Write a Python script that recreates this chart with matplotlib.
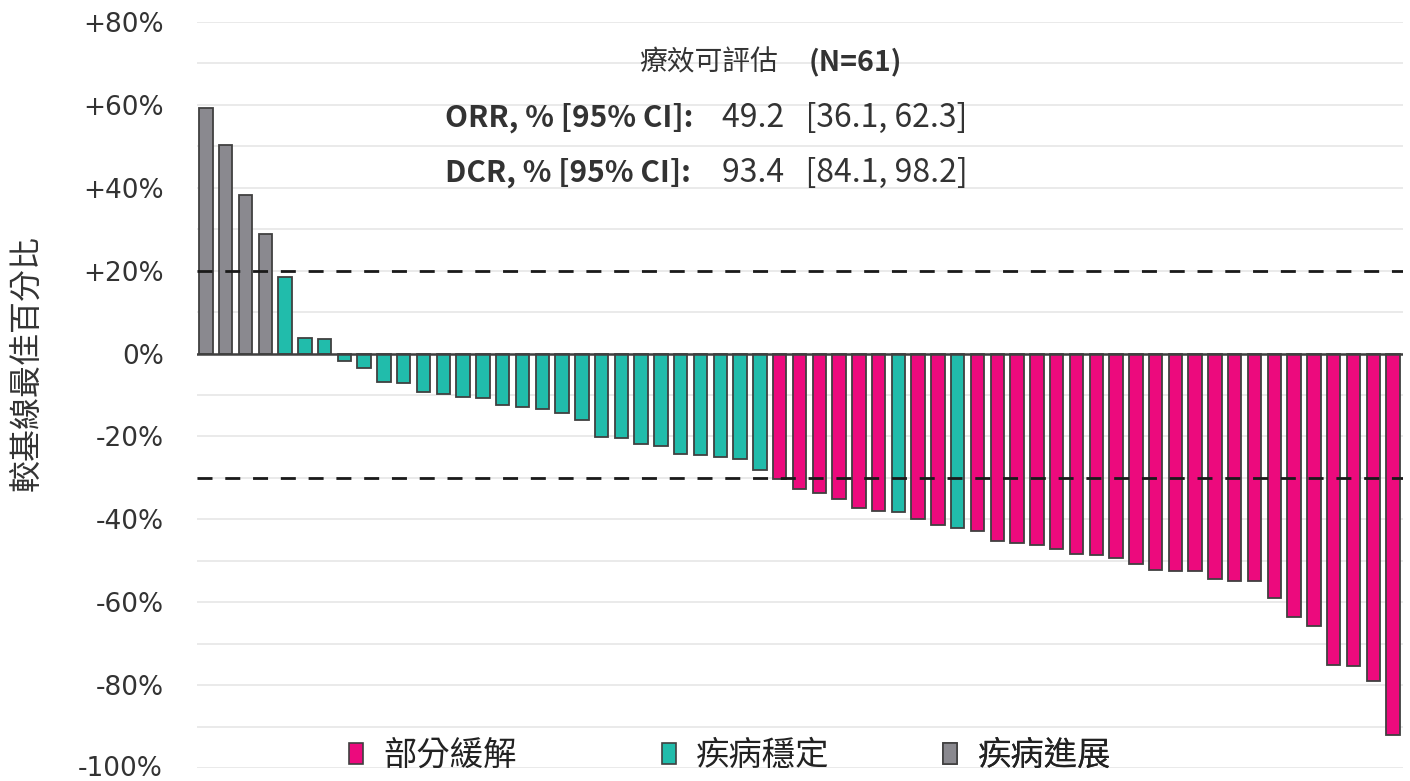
import numpy as np
import matplotlib.pyplot as plt
import matplotlib as mpl
from matplotlib.patches import Patch, Rectangle
from matplotlib.transforms import offset_copy

mpl.rcParams['font.family'] = ['Noto Sans CJK TC', 'DejaVu Sans']

# best % change from baseline, sorted as in the waterfall
change = [59.3, 50.4, 38.3, 28.8, 18.4, 3.7, 3.4, -1.7, -3.5, -6.9,
          -7.1, -9.2, -9.7, -10.5, -10.8, -12.4, -12.9, -13.3, -14.3, -16.1,
          -20.2, -20.4, -21.8, -22.4, -24.3, -24.5, -24.9, -25.4, -28.2, -30.3,
          -32.6, -33.7, -35.2, -37.2, -38.1, -38.2, -39.8, -41.4, -42.2, -42.7,
          -45.2, -45.6, -46.2, -47.1, -48.3, -48.7, -49.4, -50.8, -52.1, -52.4,
          -52.4, -54.5, -54.9, -54.9, -59.0, -63.5, -65.7, -75.2, -75.4, -79.0,
          -92.0]
# PR = partial response, SD = stable disease, PD = progressive disease
response = ['PD'] * 4 + ['SD'] * 25 + ['PR'] * 6 + ['SD'] + ['PR'] * 2 + ['SD'] + ['PR'] * 22

resp_names = {'PR': '部分緩解', 'SD': '疾病穩定', 'PD': '疾病進展'}
resp_colors = {'PR': '#EC0A7D', 'SD': '#21BCAB', 'PD': '#8A898F'}

ytick_values = [-100, -80, -60, -40, -20, 0, 20, 40, 60, 80]
ytick_labels = ['-100%', '-80%', '-60%', '-40%', '-20%', '0%', '+20%', '+40%', '+60%', '+80%']
pd_cut = 20
pr_cut = -30

fig = plt.figure(figsize=(14.1, 7.81), dpi=100)
ax = fig.add_axes([0.1397, 0.0166, 0.8553, 0.9552])

x = np.arange(len(change))
ax.bar(x, change, 0.68, color=[resp_colors[r] for r in response],
       edgecolor='#404040', linewidth=1.3, zorder=3)

ax.set_xlim(-0.45, len(change) - 0.5)
ax.set_ylim(-100, 80)
ax.set_yticks(ytick_values)
# bottom label sits on the figure edge, drawn separately a bit higher
ax.set_yticklabels([''] + ytick_labels[1:], family='DejaVu Sans', fontsize=19, color='#333333')
ax.text(0, ytick_values[0], ytick_labels[0], family='DejaVu Sans', fontsize=19, color='#333333',
        ha='right', va='baseline',
        transform=offset_copy(ax.get_yaxis_transform(), fig=fig, x=-34, y=-8, units='dots'))
ax.set_yticks(np.arange(-90, 80, 20), minor=True)
ax.set_xticks([])
ax.tick_params(axis='y', which='both', length=0, pad=24)
ax.grid(axis='y', which='both', color='#E8E8E8', linewidth=1.3, zorder=0)
for s in ax.spines.values():
    s.set_visible(False)

ax.axhline(0, color='#404040', linewidth=1.8, zorder=4)
ax.axhline(pd_cut, color='#1A1A1A', linewidth=2, linestyle=(0, (5.4, 4.6)), zorder=5)
ax.axhline(pr_cut, color='#1A1A1A', linewidth=2, linestyle=(0, (5.4, 4.6)), zorder=5)

ax.set_ylabel('較基線最佳百分比', fontsize=23, color='#333333')
ax.yaxis.set_label_coords(-0.128, 0.543)

# white box behind summary text
ax.add_patch(Rectangle((0.185, 0.775), 0.465, 0.2, transform=ax.transAxes,
                       facecolor='white', edgecolor='none', zorder=1))
ax.text(0.482, 0.946, '療效可評估', transform=ax.transAxes, fontsize=20,
        color='#333333', ha='right', va='center', zorder=6)
ax.text(0.507, 0.946, '(N=61)', transform=ax.transAxes, fontsize=20.5,
        color='#333333', ha='left', va='center', fontweight='bold', zorder=6)
ax.text(0.206, 0.872, 'ORR, % [95% CI]:', transform=ax.transAxes, fontsize=21.5,
        color='#333333', ha='left', va='center', fontweight='bold', zorder=6)
ax.text(0.435, 0.872, '49.2   [36.1, 62.3]', transform=ax.transAxes, fontsize=23,
        color='#333333', ha='left', va='center', zorder=6)
ax.text(0.206, 0.798, 'DCR, % [95% CI]:', transform=ax.transAxes, fontsize=21.5,
        color='#333333', ha='left', va='center', fontweight='bold', zorder=6)
ax.text(0.435, 0.798, '93.4   [84.1, 98.2]', transform=ax.transAxes, fontsize=23,
        color='#333333', ha='left', va='center', zorder=6)

# white strip behind legend
ax.add_patch(Rectangle((0.0257, -0.01), 0.855, 0.035, transform=ax.transAxes,
                       facecolor='white', edgecolor='none', zorder=1, clip_on=False))
leg_x = {'PR': 0.126, 'SD': 0.3856, 'PD': 0.619}
for k in ['PR', 'SD', 'PD']:
    h = Patch(facecolor=resp_colors[k], edgecolor='#404040', linewidth=1.2, label=resp_names[k])
    leg = ax.legend(handles=[h], loc='center left', bbox_to_anchor=(leg_x[k], 0.017),
                    fontsize=24, frameon=False, handlelength=0.42, handleheight=0.6,
                    handletextpad=0.6, borderpad=0, borderaxespad=0)
    leg.set_zorder(6)
    leg.get_texts()[0].set_color('#222222')
    ax.add_artist(leg)

plt.savefig('out.png', dpi=100)
